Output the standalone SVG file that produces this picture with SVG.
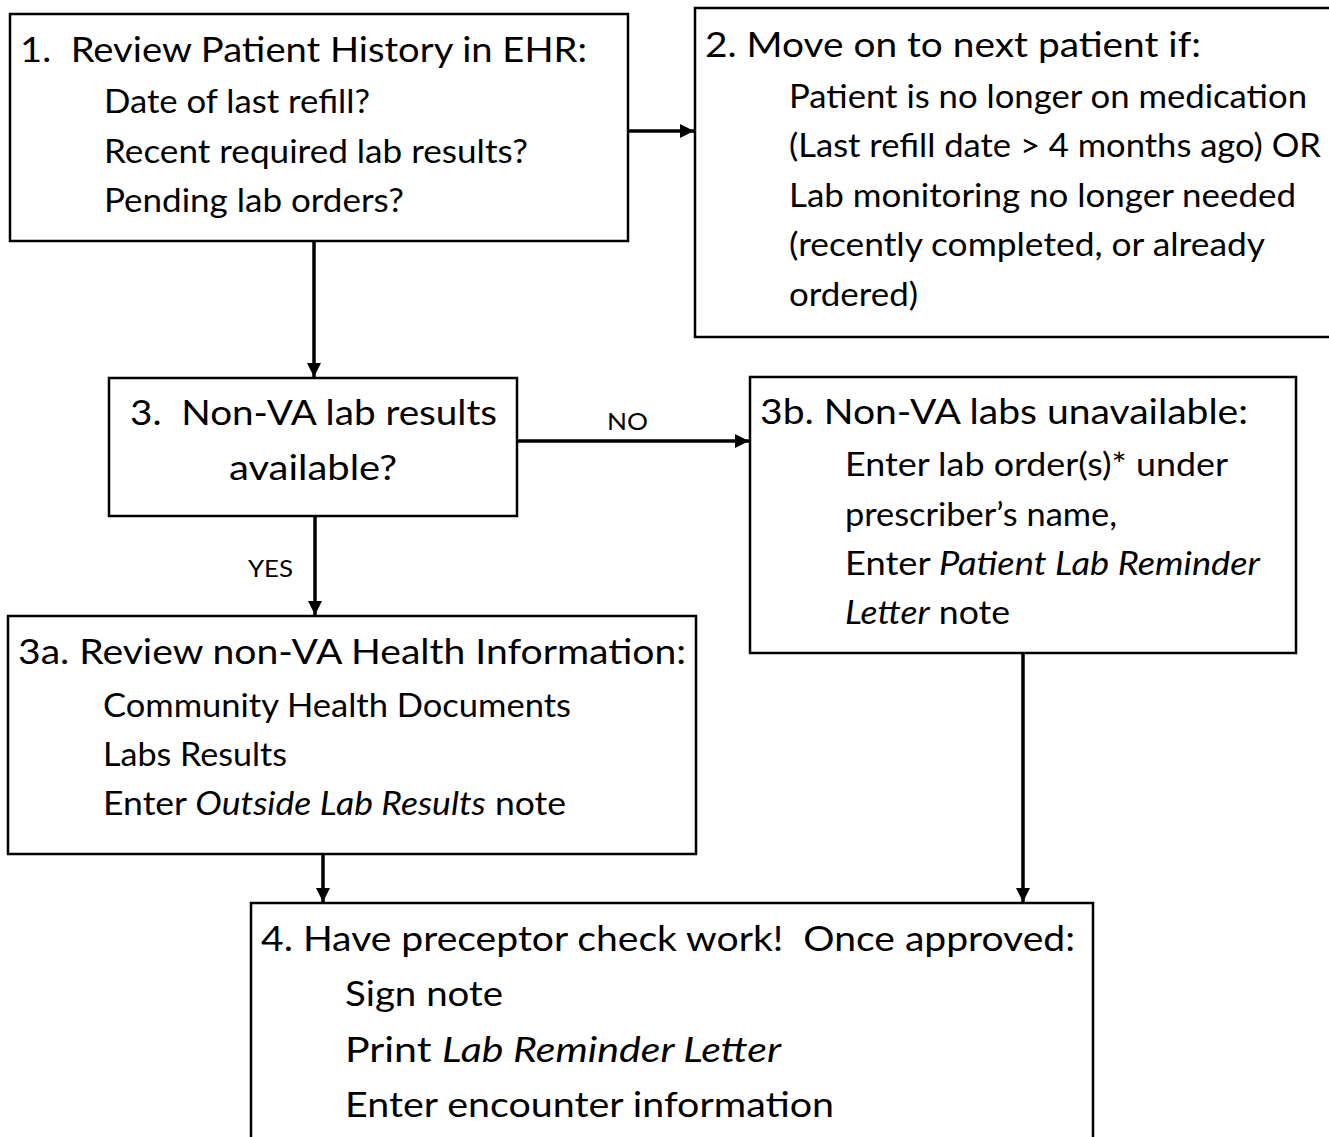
<svg xmlns="http://www.w3.org/2000/svg" width="1329" height="1137" viewBox="0 0 1329 1137">
<style>
.box{fill:#fff;stroke:#000;stroke-width:2.5}
text{font-family:Lato,"Open Sans","Liberation Sans",sans-serif;fill:#000;white-space:pre}
.h{font-size:35px}
.b{font-size:33px}
.l{font-size:24px}
.conn{stroke:#000;stroke-width:3.5;fill:none;marker-end:url(#ah)}
</style>
<defs>
<marker id="ah" viewBox="0 0 10 10" refX="10" refY="5" markerWidth="4" markerHeight="4" orient="auto" markerUnits="strokeWidth">
<path d="M0,0 L10,5 L0,10 Z" fill="#000"/>
</marker>
</defs>
<rect width="1329" height="1137" fill="#fff"/>
<g id="connectors">
<line class="conn" x1="628" y1="131" x2="694" y2="131"/>
<line class="conn" x1="314" y1="241" x2="314" y2="377"/>
<line class="conn" x1="517" y1="441" x2="749" y2="441"/>
<line class="conn" x1="315" y1="516" x2="315" y2="615"/>
<line class="conn" x1="323" y1="854" x2="323" y2="902"/>
<line class="conn" x1="1023" y1="653" x2="1023" y2="902"/>
<text class="l" x="607" y="430" textLength="41" lengthAdjust="spacingAndGlyphs">NO</text>
<text class="l" x="248" y="577" textLength="45" lengthAdjust="spacingAndGlyphs">YES</text>
</g>
<g id="node1">
<rect class="box" x="10" y="14" width="618" height="227"/>
<text class="h" x="20" y="62" textLength="567" lengthAdjust="spacingAndGlyphs" xml:space="preserve">1.  Review Patient History in EHR:</text>
<text class="b" x="104" y="113" textLength="266" lengthAdjust="spacingAndGlyphs">Date of last refill?</text>
<text class="b" x="104" y="163" textLength="424" lengthAdjust="spacingAndGlyphs">Recent required lab results?</text>
<text class="b" x="104" y="212" textLength="300" lengthAdjust="spacingAndGlyphs">Pending lab orders?</text>
</g>
<g id="node2">
<rect class="box" x="695" y="8" width="640" height="329"/>
<text class="h" x="705" y="57" textLength="496" lengthAdjust="spacingAndGlyphs">2. Move on to next patient if:</text>
<text class="b" x="789" y="108" textLength="518" lengthAdjust="spacingAndGlyphs">Patient is no longer on medication</text>
<text class="b" x="789" y="157" textLength="532" lengthAdjust="spacingAndGlyphs">(Last refill date &gt; 4 months ago) OR</text>
<text class="b" x="789" y="207" textLength="507" lengthAdjust="spacingAndGlyphs">Lab monitoring no longer needed</text>
<text class="b" x="789" y="256" textLength="476" lengthAdjust="spacingAndGlyphs">(recently completed, or already</text>
<text class="b" x="789" y="306" textLength="129" lengthAdjust="spacingAndGlyphs">ordered)</text>
</g>
<g id="node3">
<rect class="box" x="109" y="378" width="408" height="138"/>
<text class="h" x="130" y="425" textLength="367" lengthAdjust="spacingAndGlyphs" xml:space="preserve">3.  Non-VA lab results</text>
<text class="h" x="229" y="480" textLength="168" lengthAdjust="spacingAndGlyphs">available?</text>
</g>
<g id="node3b">
<rect class="box" x="750" y="377" width="546" height="276"/>
<text class="h" x="760" y="424" textLength="488" lengthAdjust="spacingAndGlyphs">3b. Non-VA labs unavailable:</text>
<text class="b" x="845" y="476" textLength="383" lengthAdjust="spacingAndGlyphs">Enter lab order(s)* under</text>
<text class="b" x="845" y="526" textLength="272" lengthAdjust="spacingAndGlyphs">prescriber’s name,</text>
<text class="b" x="845" y="575" textLength="415" lengthAdjust="spacingAndGlyphs">Enter <tspan font-style="italic">Patient Lab Reminder</tspan></text>
<text class="b" x="845" y="624" textLength="165" lengthAdjust="spacingAndGlyphs"><tspan font-style="italic">Letter</tspan> note</text>
</g>
<g id="node3a">
<rect class="box" x="8" y="616" width="688" height="238"/>
<text class="h" x="18" y="664" textLength="668" lengthAdjust="spacingAndGlyphs">3a. Review non-VA Health Information:</text>
<text class="b" x="103" y="717" textLength="468" lengthAdjust="spacingAndGlyphs">Community Health Documents</text>
<text class="b" x="103" y="766" textLength="184" lengthAdjust="spacingAndGlyphs">Labs Results</text>
<text class="b" x="103" y="815" textLength="463" lengthAdjust="spacingAndGlyphs">Enter <tspan font-style="italic">Outside Lab Results</tspan> note</text>
</g>
<g id="node4">
<rect class="box" x="251" y="903" width="842" height="250"/>
<text class="h" x="261" y="951" textLength="814" lengthAdjust="spacingAndGlyphs" xml:space="preserve">4. Have preceptor check work!  Once approved:</text>
<text class="h" x="345" y="1006" textLength="158" lengthAdjust="spacingAndGlyphs">Sign note</text>
<text class="h" x="345" y="1062" textLength="436" lengthAdjust="spacingAndGlyphs">Print <tspan font-style="italic">Lab Reminder Letter</tspan></text>
<text class="h" x="345" y="1117" textLength="489" lengthAdjust="spacingAndGlyphs">Enter encounter information</text>
</g>
</svg>
